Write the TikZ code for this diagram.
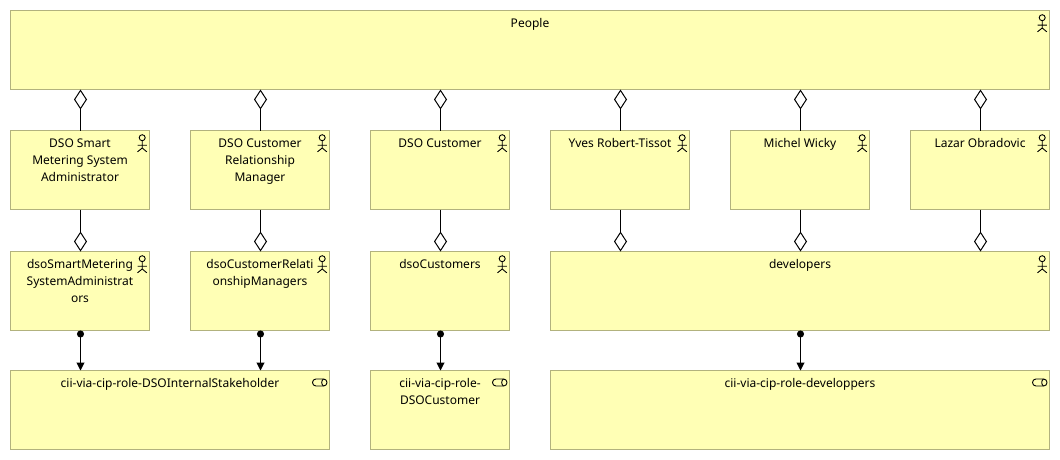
\documentclass[tikz,border=0pt]{standalone}
\usepackage{fontspec}
\setmainfont{Noto Sans}
\usetikzlibrary{arrows.meta}
\definecolor{elemfill}{RGB}{255,255,181}
\definecolor{elemline}{RGB}{178,178,126}
\tikzset{
  x=1pt,y=-1pt,
  elem/.style={draw=elemline,fill=elemfill,line width=1pt,anchor=north west,inner sep=0pt,outer sep=0pt},
  elemtext/.style={anchor=north,align=center,inner sep=0pt,font=\fontsize{12}{17}\selectfont,text=black},
  aggreg/.style={draw=black,line width=1pt,-{Diamond[open,length=20pt,width=13pt,line width=1pt,fill=white]}},
  assign/.style={draw=black,line width=1pt,{Circle[length=7pt,width=7pt]}-{Triangle[length=8pt,width=8pt]}},
  icon/.style={draw=black,line width=.9pt},
}
% name, x, y, w, h, text
\newcommand{\elembox}[6]{%
  \node[elem,minimum width=#4pt-1pt,minimum height=#5pt-1pt] (#1) at (#2+.5,#3+.5) {};
  \node[elemtext] (#1t) at ([yshift=-8pt]#1.north) {#6};
}
\newcommand{\actoricon}[1]{%
  \begin{scope}[shift={(#1.north east)},icon]
    \draw[icon] (-7.3,7.2) circle (3pt);
    \draw[icon] (-7.3,10.2) -- (-7.3,17.5) (-12,14.7) -- (-2.7,14.7) (-12,21.3) -- (-7.3,17.5) -- (-2.7,21.3);
  \end{scope}}
\newcommand{\serviceicon}[1]{%
  \begin{scope}[shift={(#1.north east)}]
    \draw[icon,rounded corners=3.4pt] (-17,8.5) rectangle (-2.5,15.5);
    \draw[icon] (-6,8.5) .. controls (-8.4,10) and (-8.4,14) .. (-6,15.5);
  \end{scope}}
\begin{document}
\begin{tikzpicture}
\useasboundingbox (0,0) rectangle (1060,460);
\fill[white] (0,0) rectangle (1060,460);
\elembox{people}{10}{10}{1040}{80}{People}
\elembox{a}{10}{130}{140}{80}{DSO Smart\\Metering System\\Administrator}
\elembox{b}{190}{130}{140}{80}{DSO Customer\\Relationship\\Manager}
\elembox{c}{370}{130}{140}{80}{DSO Customer}
\elembox{d}{550}{130}{140}{80}{Yves Robert-Tissot}
\elembox{e}{730}{130}{140}{80}{Michel Wicky}
\elembox{f}{910}{130}{140}{80}{Lazar Obradovic}
\elembox{ga}{10}{251}{140}{80}{dsoSmartMetering\\SystemAdministrat\\ors}
\elembox{gb}{190}{251}{140}{80}{dsoCustomerRelati\\onshipManagers}
\elembox{gc}{370}{251}{140}{80}{dsoCustomers}
\elembox{gd}{550}{251}{500}{80}{developers}
\elembox{ra}{10}{370}{320}{80}{cii-via-cip-role-DSOInternalStakeholder}
\elembox{rc}{370}{370}{140}{80}{cii-via-cip-role-\\DSOCustomer}
\elembox{rd}{550}{370}{500}{80}{cii-via-cip-role-developpers}
\foreach \n in {people,a,b,c,d,e,f,ga,gb,gc,gd}{\actoricon{\n}}
\foreach \n in {ra,rc,rd}{\serviceicon{\n}}
\foreach \n in {a,b,c,d,e,f}{
  \draw[aggreg] ([xshift=.5pt]\n.north) -- ([xshift=.5pt]\n.north |- people.south);
}
\draw[aggreg] ([xshift=.5pt]a.south) -- ([xshift=.5pt]ga.north);
\draw[aggreg] ([xshift=.5pt]b.south) -- ([xshift=.5pt]gb.north);
\draw[aggreg] ([xshift=.5pt]c.south) -- ([xshift=.5pt]gc.north);
\foreach \n in {d,e,f}{
  \draw[aggreg] ([xshift=.5pt]\n.south) -- ([xshift=.5pt]\n.south |- gd.north);
}
\draw[assign] ([xshift=.5pt]ga.south) -- ([xshift=.5pt]ga.south |- ra.north);
\draw[assign] ([xshift=.5pt]gb.south) -- ([xshift=.5pt]gb.south |- ra.north);
\draw[assign] ([xshift=.5pt]gc.south) -- ([xshift=.5pt]rc.north);
\draw[assign] ([xshift=.5pt]gd.south) -- ([xshift=.5pt]rd.north);
\end{tikzpicture}
\end{document}
